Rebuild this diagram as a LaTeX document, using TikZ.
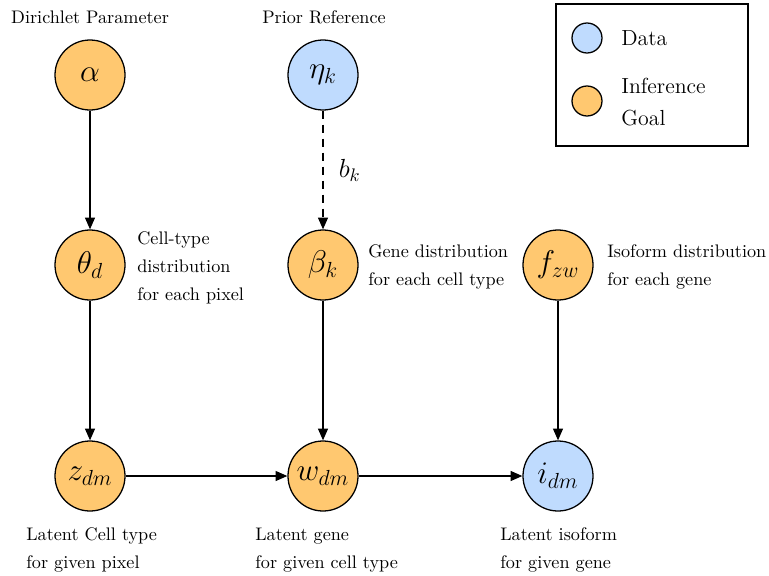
\documentclass[tikz,border=0pt]{standalone}
\usetikzlibrary{arrows.meta}
\definecolor{goalorange}{RGB}{255,200,112}
\definecolor{datablue}{RGB}{191,219,254}
\begin{document}
\begin{tikzpicture}[x=0.55pt,y=-0.55pt,
  var/.style={circle,draw=black,line width=0.7pt,minimum size=38.5pt,inner sep=0pt,font=\LARGE},
  goal/.style={var,fill=goalorange},
  obs/.style={var,fill=datablue},
  legdot/.style={circle,draw=black,line width=0.7pt,minimum size=16.5pt,inner sep=0pt},
  edge/.style={line width=0.7pt,-{Triangle[length=6.5pt,width=5.5pt]}},
  desc/.style={anchor=west,align=left,inner sep=0pt,font=\fontsize{10}{15.4}\selectfont},
  head/.style={inner sep=0pt,font=\fontsize{10}{12}\selectfont},
  legtext/.style={anchor=west,align=left,inner sep=0pt,font=\fontsize{12}{17.6}\selectfont}]
\useasboundingbox (0,0) rectangle (769,575);

% headings
\node[head] (hdir) at (90,17) {Dirichlet Parameter};
\node[head] (hpri) at (324,17) {Prior Reference};

% variables
\node[goal] (alpha) at (90,75) {$\alpha$};
\node[obs]  (eta)   at (323,75) {$\eta_k$};
\node[goal] (theta) at (90,265) {$\theta_d$};
\node[goal] (beta)  at (323,265) {$\beta_k$};
\node[goal] (f)     at (558,265) {$f_{zw}$};
\node[goal] (z)     at (90,476) {$z_{dm}$};
\node[goal] (w)     at (323,476) {$w_{dm}$};
\node[obs]  (i)     at (558,476) {$i_{dm}$};

% descriptions
\node[desc] (dtheta) at (137,268) {Cell-type\\distribution\\for each pixel};
\node[desc] (dbeta)  at (368,267) {Gene distribution\\for each cell type};
\node[desc] (df)     at (607,267) {Isoform distribution\\for each gene};
\node[desc] (dz) at (26,550) {Latent Cell type\\for given pixel};
\node[desc] (dw) at (255,550) {Latent gene\\for given cell type};
\node[desc] (di) at (500,550) {Latent isoform\\for given gene};

% edges
\draw[edge] (alpha) -- (theta);
\draw[edge] (theta) -- (z);
\draw[edge,dash pattern=on 4.4pt off 3.3pt] (eta) -- node[right=5pt,font=\Large] (bk) {$b_k$} (beta);
\draw[edge] (beta) -- (w);
\draw[edge] (f) -- (i);
\draw[edge] (z) -- (w);
\draw[edge] (w) -- (i);

% legend
\draw[line width=0.8pt] (556,4) rectangle (748,146);
\node[legdot,fill=datablue]  (ldata) at (587,38) {};
\node[legdot,fill=goalorange] (lgoal) at (587,101) {};
\node[legtext] (tdata) at (621,38) {Data};
\node[legtext] (tgoal) at (621,102) {Inference\\Goal};
\end{tikzpicture}
\end{document}
